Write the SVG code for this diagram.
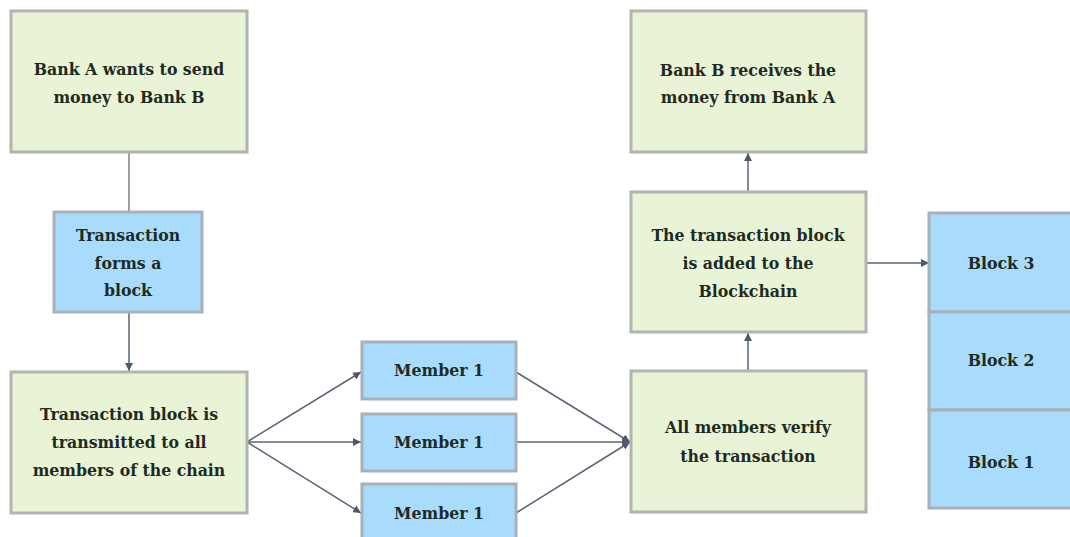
<svg xmlns="http://www.w3.org/2000/svg" width="1070" height="537" viewBox="0 0 1070 537">
<style>
.g{fill:#e9f4d6;stroke:#b2b4b0;stroke-width:3}
.b{fill:#a9dcfc;stroke:#a8b0b8;stroke-width:3}
.t{font-family:'DejaVu Serif Condensed','DejaVu Serif',serif;font-stretch:condensed;font-weight:700;font-size:17.5px;fill:#1e2a22;text-anchor:middle}
.c{stroke:#5a6476;stroke-width:1.5;fill:none}
.p{stroke:#7d7f80;stroke-width:1.5;fill:none}
</style>
<defs>
<marker id="a" viewBox="0 0 10 10" refX="10" refY="5" markerWidth="8" markerHeight="8" markerUnits="userSpaceOnUse" orient="auto">
<path d="M0,0 L10,5 L0,10 z" fill="#4e5a6c"/>
</marker>
</defs>
<rect width="1070" height="537" fill="#ffffff"/>
<g id="connectors">
<line class="p" x1="129" y1="153" x2="129" y2="212"/>
<line class="c" x1="129" y1="312" x2="129" y2="371" marker-end="url(#a)"/>
<line class="c" x1="247" y1="442" x2="361" y2="372" marker-end="url(#a)"/>
<line class="c" x1="247" y1="442" x2="361" y2="442" marker-end="url(#a)"/>
<line class="c" x1="247" y1="442" x2="361" y2="513" marker-end="url(#a)"/>
<line class="c" x1="516" y1="372" x2="630" y2="442" marker-end="url(#a)"/>
<line class="c" x1="516" y1="442" x2="630" y2="442" marker-end="url(#a)"/>
<line class="c" x1="516" y1="513" x2="630" y2="442" marker-end="url(#a)"/>
<line class="c" x1="748" y1="371" x2="748" y2="333" marker-end="url(#a)"/>
<line class="c" x1="748" y1="192" x2="748" y2="153" marker-end="url(#a)"/>
<line class="c" x1="866" y1="263" x2="929" y2="263" marker-end="url(#a)"/>
</g>
<g id="bankA">
<rect class="g" x="11" y="11" width="236" height="141"/>
<text class="t" x="129" y="75">Bank A wants to send</text>
<text class="t" x="129" y="103">money to Bank B</text>
</g>
<g id="formsBlock">
<rect class="b" x="54" y="212" width="148" height="100"/>
<text class="t" x="128" y="241">Transaction</text>
<text class="t" x="128" y="269">forms a</text>
<text class="t" x="128" y="296">block</text>
</g>
<g id="transmitted">
<rect class="g" x="11" y="372" width="236" height="141"/>
<text class="t" x="129" y="420">Transaction block is</text>
<text class="t" x="129" y="448">transmitted to all</text>
<text class="t" x="129" y="476">members of the chain</text>
</g>
<g id="member1a">
<rect class="b" x="362" y="342" width="154" height="57"/>
<text class="t" x="439" y="376">Member 1</text>
</g>
<g id="member1b">
<rect class="b" x="362" y="414" width="154" height="57"/>
<text class="t" x="439" y="448">Member 1</text>
</g>
<g id="member1c">
<rect class="b" x="362" y="484" width="154" height="60"/>
<text class="t" x="439" y="519">Member 1</text>
</g>
<g id="verify">
<rect class="g" x="631" y="371" width="235" height="141"/>
<text class="t" x="748" y="433">All members verify</text>
<text class="t" x="748" y="462">the transaction</text>
</g>
<g id="added">
<rect class="g" x="631" y="192" width="235" height="140"/>
<text class="t" x="748" y="241">The transaction block</text>
<text class="t" x="748" y="269">is added to the</text>
<text class="t" x="748" y="297">Blockchain</text>
</g>
<g id="bankB">
<rect class="g" x="631" y="11" width="235" height="141"/>
<text class="t" x="748" y="76">Bank B receives the</text>
<text class="t" x="748" y="103">money from Bank A</text>
</g>
<g id="block3">
<rect class="b" x="929" y="213" width="150" height="99"/>
<text class="t" x="1001" y="269">Block 3</text>
</g>
<g id="block2">
<rect class="b" x="929" y="312" width="150" height="98"/>
<text class="t" x="1001" y="366">Block 2</text>
</g>
<g id="block1">
<rect class="b" x="929" y="410" width="150" height="98"/>
<text class="t" x="1001" y="468">Block 1</text>
</g>
</svg>
